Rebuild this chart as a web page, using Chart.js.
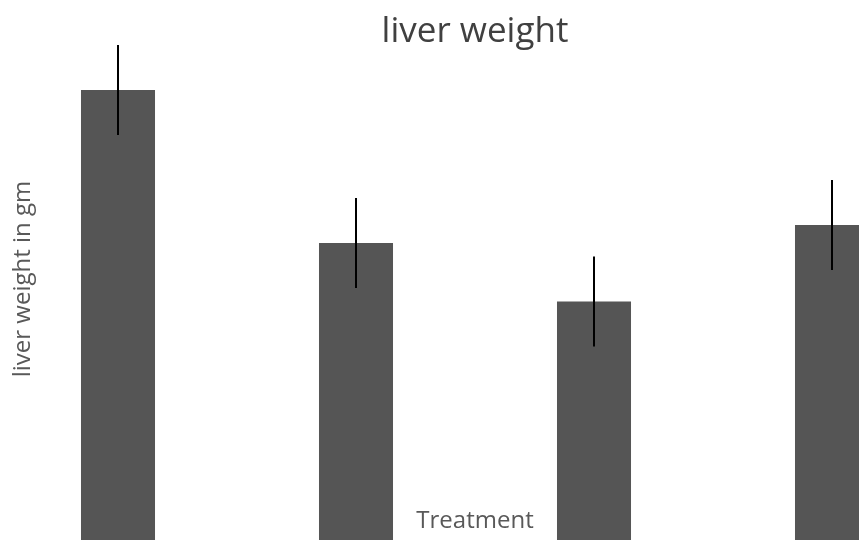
<!DOCTYPE html>
<html>
<head>
<meta charset="utf-8">
<script src="https://cdn.jsdelivr.net/npm/chart.js@4"></script>
<style>
html,body{margin:0;padding:0;background:#fff;overflow:hidden;}
#wrap{position:relative;width:859px;height:540px;overflow:hidden;}
#box{position:absolute;left:-1px;top:0;width:952px;height:840px;}
</style>
</head>
<body>
<div id="wrap"><div id="box"><canvas id="c" width="952" height="840"></canvas></div></div>
<script>
const categories = ["Group 1", "Group 2", "Group 3", "Group 4"];
const liverWeight = [5.0, 3.98, 3.59, 4.1];
const liverError = [0.3, 0.3, 0.3, 0.3];
const chartTitle = "liver weight";
const yTitle = "liver weight in gm";
const xTitle = "Treatment";

const errorBars = {
  id: 'errorBars',
  afterDatasetsDraw(chart) {
    const ctx = chart.ctx;
    const meta = chart.getDatasetMeta(0);
    const y = chart.scales.y;
    ctx.save();
    ctx.strokeStyle = '#000';
    ctx.lineWidth = 2;
    meta.data.forEach((bar, i) => {
      const v = liverWeight[i], e = liverError[i];
      ctx.beginPath();
      ctx.moveTo(bar.x, y.getPixelForValue(v + e));
      ctx.lineTo(bar.x, y.getPixelForValue(v - e));
      ctx.stroke();
    });
    ctx.restore();
  }
};

const axisTitles = {
  id: 'axisTitles',
  afterDraw(chart) {
    const ctx = chart.ctx;
    const area = chart.chartArea;
    ctx.save();
    ctx.fillStyle = '#595959';
    ctx.font = '24px "Open Sans"';
    ctx.textAlign = 'center';
    ctx.textBaseline = 'alphabetic';
    ctx.fillText(xTitle, (area.left + area.right) / 2, 528);
    ctx.translate(31, 279);
    ctx.rotate(-Math.PI / 2);
    ctx.fillText(yTitle, 0, 0);
    ctx.restore();
  }
};

new Chart(document.getElementById('c'), {
  type: 'bar',
  data: {
    labels: categories,
    datasets: [{
      data: liverWeight,
      backgroundColor: '#555555',
      borderWidth: 0,
      categoryPercentage: 1,
      barPercentage: 0.311
    }]
  },
  options: {
    responsive: false,
    animation: false,
    layout: { padding: 0 },
    plugins: {
      legend: { display: false },
      tooltip: { enabled: false },
      title: {
        display: true,
        text: chartTitle,
        color: '#404040',
        font: { family: 'Open Sans', size: 35, weight: 'normal', lineHeight: 1.2 },
        padding: { top: 11, bottom: 7 }
      }
    },
    scales: {
      x: { display: false },
      y: { display: false, min: 0, max: 5.2 }
    }
  },
  plugins: [errorBars, axisTitles]
});
</script>
</body>
</html>
